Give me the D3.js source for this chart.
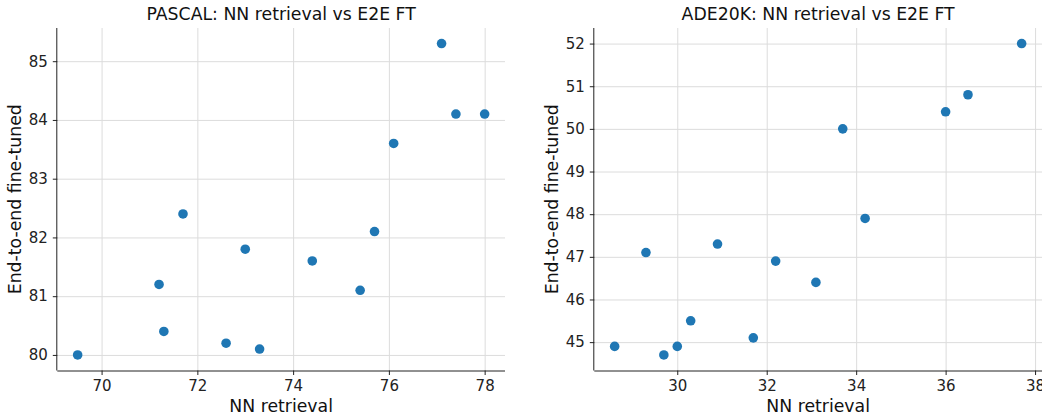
<!DOCTYPE html>
<html lang="en">
<head>
<meta charset="utf-8">
<title>NN retrieval vs E2E FT</title>
<script src="https://d3js.org/d3.v7.min.js"></script>
<style>
  body { margin: 0; background: #fff; }
  svg { font-family: "DejaVu Sans", sans-serif; }
  .tick line { stroke: #222; }
  .domain { stroke: #222; }
  .grid line { stroke: #dcdcdc; stroke-width: 1; }
  .grid .domain { display: none; }
</style>
</head>
<body>
<svg id="chart" width="1042" height="415"></svg>
<script>
// PASCAL panel
var pascalNN = [69.5, 71.2, 71.3, 71.7, 72.6, 73.0, 73.3, 74.4, 75.4, 75.7, 76.1, 77.1, 77.4, 78.0];
var pascalFT = [80.0, 81.2, 80.4, 82.4, 80.2, 81.8, 80.1, 81.6, 81.1, 82.1, 83.6, 85.3, 84.1, 84.1];
var pascalXTicks = [70, 72, 74, 76, 78];
var pascalYTicks = [80, 81, 82, 83, 84, 85];

// ADE20K panel
var adeNN = [28.6, 29.3, 29.7, 30.0, 30.3, 30.9, 31.7, 32.2, 33.1, 33.7, 34.2, 36.0, 36.5, 37.7];
var adeFT = [44.9, 47.1, 44.7, 44.9, 45.5, 47.3, 45.1, 46.9, 46.4, 50.0, 47.9, 50.4, 50.8, 52.0];
var adeXTicks = [30, 32, 34, 36, 38];
var adeYTicks = [45, 46, 47, 48, 49, 50, 51, 52];

var svg = d3.select('#chart');
var plotTop = 28, plotBottom = 370.5;

function padded(vals) {
  var ext = d3.extent(vals), m = (ext[1] - ext[0]) * 0.05;
  return [ext[0] - m, ext[1] + m];
}

function panel(left, right, xs, ys, xTicks, yTicks, title) {
  var x = d3.scaleLinear().domain(padded(xs)).range([left, right]);
  var y = d3.scaleLinear().domain(padded(ys)).range([plotBottom, plotTop]);
  var g = svg.append('g');

  // grid
  g.append('g').attr('class', 'grid')
    .attr('transform', 'translate(0,' + plotBottom + ')')
    .call(d3.axisBottom(x).tickValues(xTicks).tickSize(-(plotBottom - plotTop)).tickFormat(''));
  g.append('g').attr('class', 'grid')
    .attr('transform', 'translate(' + left + ',0)')
    .call(d3.axisLeft(y).tickValues(yTicks).tickSize(-(right - left)).tickFormat(''));

  // points
  g.selectAll('circle')
    .data(xs)
    .enter()
    .append('circle')
    .attr('cx', function(d) { return x(d); })
    .attr('cy', function(d, i) { return y(ys[i]); })
    .attr('r', 4.8)
    .style('fill', '#1f77b4');

  // axes
  var xa = g.append('g')
    .attr('transform', 'translate(0,' + plotBottom + ')')
    .call(d3.axisBottom(x).tickValues(xTicks).tickSize(4.5).tickPadding(5).tickFormat(d3.format('d')));
  xa.select('.domain').attr('d', 'M' + left + ',0.5H' + right);
  var ya = g.append('g')
    .attr('transform', 'translate(' + left + ',0)')
    .call(d3.axisLeft(y).tickValues(yTicks).tickSize(4.5).tickPadding(5).tickFormat(d3.format('d')));
  ya.select('.domain').attr('d', 'M-0.5,' + plotTop + 'V' + plotBottom);
  xa.attr('font-size', 15).attr('font-family', null).selectAll('text').attr('fill', '#222');
  ya.attr('font-size', 15).attr('font-family', null).selectAll('text').attr('fill', '#222');

  // labels
  g.append('text')
    .attr('x', (left + right) / 2)
    .attr('y', 20)
    .attr('text-anchor', 'middle')
    .style('font-size', '17.3px')
    .style('fill', '#111')
    .text(title);
  g.append('text')
    .attr('x', (left + right) / 2)
    .attr('y', 411.5)
    .attr('text-anchor', 'middle')
    .style('font-size', '17.3px')
    .style('fill', '#111')
    .text('NN retrieval');
  g.append('text')
    .attr('transform', 'translate(' + (left - 36) + ',' + ((plotTop + plotBottom) / 2) + ') rotate(-90)')
    .attr('text-anchor', 'middle')
    .style('font-size', '17.3px')
    .style('fill', '#111')
    .text('End-to-end fine-tuned');
}

panel(57.3, 505, pascalNN, pascalFT, pascalXTicks, pascalYTicks, 'PASCAL: NN retrieval vs E2E FT');
panel(594.3, 1042, adeNN, adeFT, adeXTicks, adeYTicks, 'ADE20K: NN retrieval vs E2E FT');
</script>
</body>
</html>
